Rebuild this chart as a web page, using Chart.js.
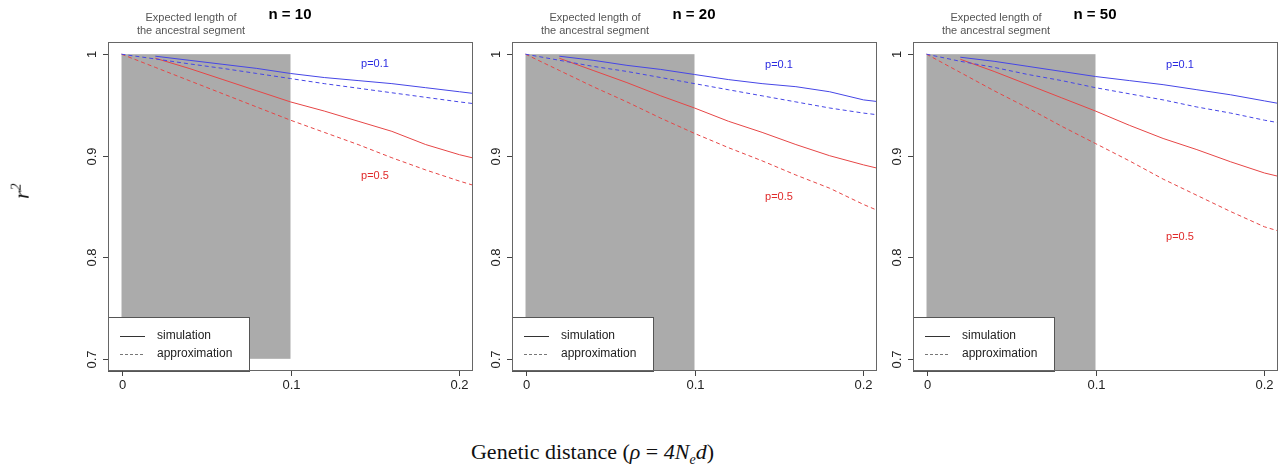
<!DOCTYPE html>
<html>
<head>
<meta charset="utf-8">
<script src="https://cdn.jsdelivr.net/npm/chart.js@4.4.1/dist/chart.umd.min.js"></script>
<style>
  body { margin: 0; background: #fff; width: 1278px; height: 472px; overflow: hidden; position: relative; }
  canvas { position: absolute; top: 0; }
  .ylab { position: absolute; left: 14px; top: 178px; font-family: "Liberation Serif", serif; font-style: italic; font-size: 22px; transform: rotate(-90deg); color: #111; }
  .ylab sup { font-size: 14px; }
  .xlab { position: absolute; left: 0; width: 1185px; top: 439px; text-align: center; font-family: "Liberation Serif", serif; font-size: 22px; color: #111; }
  .xlab sub { font-size: 14px; font-style: italic; }
</style>
</head>
<body>
<canvas id="c10" width="473" height="400" style="left:0px"></canvas>
<canvas id="c20" width="473" height="400" style="left:404px"></canvas>
<canvas id="c50" width="473" height="400" style="left:805px"></canvas>
<div class="ylab">r<sup>2</sup></div>
<div class="xlab">Genetic distance (<i>ρ</i> = <i>4N<sub>e</sub>d</i>)</div>

<script>
// ---- data ----
const xApprox = [0, 0.02, 0.04, 0.06, 0.08, 0.1, 0.12, 0.14, 0.16, 0.18, 0.2, 0.21];
const xSim = [0.02, 0.04, 0.06, 0.08, 0.1, 0.12, 0.14, 0.16, 0.18, 0.2, 0.21];

const xTicks = [0, 0.1, 0.2];
const xTickLabels = ['0', '0.1', '0.2'];
const yTicks = [1, 0.9, 0.8, 0.7];
const yTickLabels = ['1', '0.9', '0.8', '0.7'];

const panelTitles = ['n = 10', 'n = 20', 'n = 50'];

// n = 10
const n10SimP01 = [0.998, 0.994, 0.990, 0.986, 0.981, 0.977, 0.974, 0.971, 0.967, 0.963, 0.961];
const n10AppP01 = [1, 0.9953, 0.9905, 0.986, 0.981, 0.976, 0.971, 0.9665, 0.962, 0.9575, 0.953, 0.951];
const n10SimP05 = [0.996, 0.986, 0.975, 0.964, 0.953, 0.944, 0.934, 0.924, 0.911, 0.901, 0.897];
const n10AppP05 = [1, 0.987, 0.974, 0.961, 0.948, 0.935, 0.923, 0.911, 0.898, 0.886, 0.875, 0.870];

// n = 20
const n20SimP01 = [0.998, 0.994, 0.989, 0.985, 0.980, 0.975, 0.971, 0.968, 0.963, 0.955, 0.953];
const n20AppP01 = [1, 0.994, 0.988, 0.983, 0.977, 0.971, 0.965, 0.959, 0.953, 0.947, 0.942, 0.940];
const n20SimP05 = [0.996, 0.984, 0.972, 0.959, 0.947, 0.934, 0.923, 0.911, 0.900, 0.891, 0.887];
const n20AppP05 = [1, 0.984, 0.968, 0.953, 0.937, 0.922, 0.908, 0.895, 0.881, 0.868, 0.852, 0.845];

// n = 50
const n50SimP01 = [0.997, 0.993, 0.988, 0.983, 0.978, 0.974, 0.970, 0.965, 0.960, 0.954, 0.951];
const n50AppP01 = [1, 0.993, 0.987, 0.980, 0.974, 0.967, 0.961, 0.955, 0.948, 0.942, 0.935, 0.932];
const n50SimP05 = [0.995, 0.983, 0.970, 0.957, 0.944, 0.930, 0.917, 0.906, 0.894, 0.883, 0.879];
const n50AppP05 = [1, 0.982, 0.964, 0.947, 0.929, 0.912, 0.895, 0.877, 0.861, 0.845, 0.830, 0.825];

// where the curve labels sit (data coords)
const labelX = [0.15, 0.15, 0.15];
const labelP01Y = [0.99, 0.989, 0.989];
const labelP05Y = [0.88, 0.859, 0.82];
// shaded "expected length" block
const shadeX = [0, 0.1];
const shadeBottom = [0.7, 0.6, 0.6];

const BLUE = '#4646e6';
const RED = '#e64646';

function pts(xs, ys) {
  return ys.map((y, i) => ({ x: xs[i], y: y }));
}

const decor = {
  id: 'decor',
  beforeDatasetsDraw(chart, args, o) {
    const { ctx, chartArea: a, scales: { x, y } } = chart;
    ctx.save();
    ctx.beginPath();
    ctx.rect(a.left, a.top, a.right - a.left, a.bottom - a.top);
    ctx.clip();
    const x0 = x.getPixelForValue(shadeX[0]), x1 = x.getPixelForValue(shadeX[1]);
    const y0 = y.getPixelForValue(1), y1 = y.getPixelForValue(o.shadeBottom);
    ctx.fillStyle = '#ababab';
    ctx.fillRect(x0, y0, x1 - x0, y1 - y0);
    ctx.restore();
  },
  afterDatasetsDraw(chart, args, o) {
    const { ctx, chartArea: a, scales: { x, y } } = chart;
    ctx.save();
    // curve labels
    ctx.font = '11px "Liberation Sans", Arial, sans-serif';
    ctx.textAlign = 'center';
    ctx.textBaseline = 'middle';
    ctx.fillStyle = '#2a2ae0';
    ctx.fillText('p=0.1', x.getPixelForValue(o.lx), y.getPixelForValue(o.p01y));
    ctx.fillStyle = '#e02a2a';
    ctx.fillText('p=0.5', x.getPixelForValue(o.lx), y.getPixelForValue(o.p05y));

    // legend box
    const lx = a.left, ly = 317, lw = 141, lh = a.bottom - ly;
    ctx.fillStyle = '#fff';
    ctx.fillRect(lx, ly, lw, lh);
    ctx.strokeStyle = '#555';
    ctx.lineWidth = 1;
    ctx.strokeRect(lx + 0.5, ly + 0.5, lw, lh);
    ctx.strokeStyle = '#333';
    ctx.beginPath();
    ctx.moveTo(lx + 12, 336.5); ctx.lineTo(lx + 37, 336.5);
    ctx.stroke();
    ctx.strokeStyle = '#777';
    ctx.setLineDash([3, 2]);
    ctx.beginPath();
    ctx.moveTo(lx + 12, 354.5); ctx.lineTo(lx + 37, 354.5);
    ctx.stroke();
    ctx.setLineDash([]);
    ctx.fillStyle = '#222';
    ctx.font = '12px "Liberation Sans", Arial, sans-serif';
    ctx.textAlign = 'left';
    ctx.fillText('simulation', lx + 49, 336);
    ctx.fillText('approximation', lx + 49, 354);

    // frame
    ctx.strokeStyle = '#666';
    ctx.strokeRect(a.left + 0.5, a.top + 0.5, a.right - a.left - 1, a.bottom - a.top - 1);

    // axes ticks + labels
    ctx.strokeStyle = '#444';
    ctx.fillStyle = '#222';
    ctx.font = '13px "Liberation Sans", Arial, sans-serif';
    ctx.textAlign = 'center';
    ctx.textBaseline = 'middle';
    xTicks.forEach((v, i) => {
      const px = Math.round(x.getPixelForValue(v)) + 0.5;
      ctx.beginPath(); ctx.moveTo(px, a.bottom); ctx.lineTo(px, a.bottom + 5); ctx.stroke();
      ctx.fillText(xTickLabels[i], px, a.bottom + 14);
    });
    yTicks.forEach((v, i) => {
      const py = Math.round(y.getPixelForValue(v)) + 0.5;
      ctx.beginPath(); ctx.moveTo(a.left - 5, py); ctx.lineTo(a.left, py); ctx.stroke();
      ctx.save();
      ctx.translate(a.left - 16, py);
      ctx.rotate(-Math.PI / 2);
      ctx.fillText(yTickLabels[i], 0, 0);
      ctx.restore();
    });

    // titles above the panel
    ctx.fillStyle = '#555';
    ctx.font = '11px "Liberation Sans", Arial, sans-serif';
    ctx.fillText('Expected length of', a.left + 83, 18);
    ctx.fillText('the ancestral segment', a.left + 83, 31);
    ctx.fillStyle = '#000';
    ctx.font = 'bold 15px "Liberation Sans", Arial, sans-serif';
    ctx.fillText(o.title, a.left + 182, 15);
    ctx.restore();
  }
};

function makePanel(id, k, simP01, appP01, simP05, appP05) {
  const line = (data, color, dashed) => ({
    data: data,
    borderColor: color,
    borderWidth: 1,
    borderDash: dashed ? [4, 3] : [],
    pointRadius: 0,
    tension: 0,
    fill: false
  });
  new Chart(document.getElementById(id), {
    type: 'line',
    data: {
      datasets: [
        line(pts(xApprox, appP01), BLUE, true),
        line(pts(xSim, simP01), BLUE, false),
        line(pts(xApprox, appP05), RED, true),
        line(pts(xSim, simP05), RED, false)
      ]
    },
    options: {
      responsive: false,
      animation: false,
      devicePixelRatio: 1,
      layout: { padding: { left: 108, top: 42, right: 0, bottom: 29 } },
      scales: {
        x: { type: 'linear', min: -0.008, max: 0.208, display: false },
        y: { type: 'linear', min: 0.688, max: 1.012, display: false }
      },
      plugins: {
        legend: { display: false },
        tooltip: { enabled: false },
        decor: {
          title: panelTitles[k],
          lx: labelX[k],
          p01y: labelP01Y[k],
          p05y: labelP05Y[k],
          shadeBottom: shadeBottom[k]
        }
      }
    },
    plugins: [decor]
  });
}

makePanel('c10', 0, n10SimP01, n10AppP01, n10SimP05, n10AppP05);
makePanel('c20', 1, n20SimP01, n20AppP01, n20SimP05, n20AppP05);
makePanel('c50', 2, n50SimP01, n50AppP01, n50SimP05, n50AppP05);
</script>
</body>
</html>
